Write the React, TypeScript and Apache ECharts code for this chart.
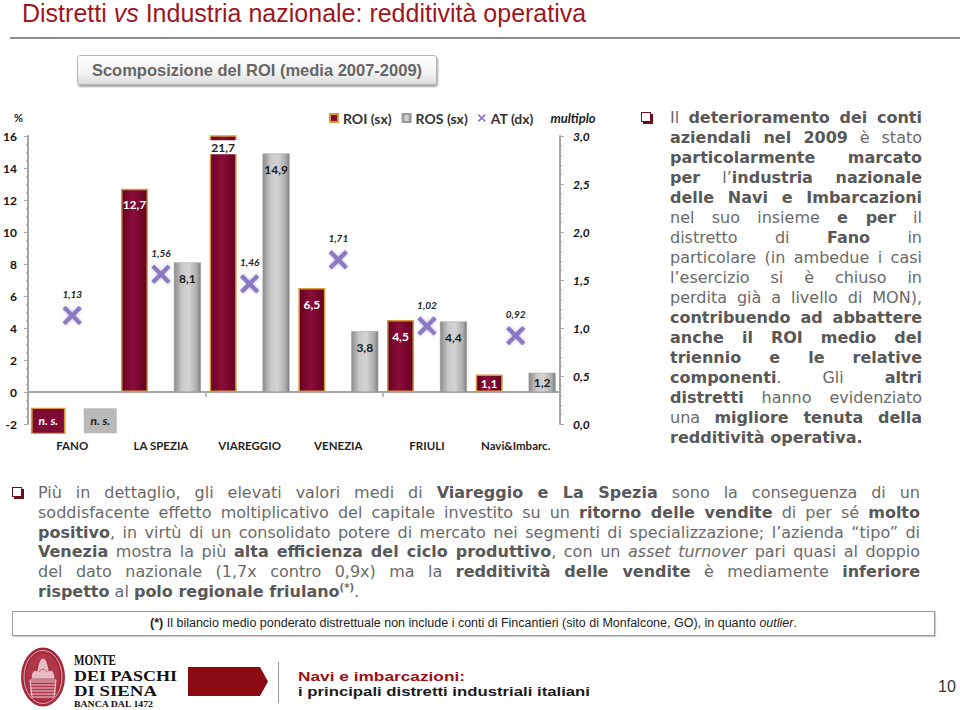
import React, { useEffect, useRef } from 'react';
import * as echarts from 'echarts';

// ---------- data ----------
const categories = ['FANO', 'LA SPEZIA', 'VIAREGGIO', 'VENEZIA', 'FRIULI', 'Navi&Imbarc.'];
const roiValues: (number | null)[] = [null, 12.7, 21.7, 6.5, 4.5, 1.1];
const rosValues: (number | null)[] = [null, 8.1, 14.9, 3.8, 4.4, 1.2];
const atValues: number[] = [1.13, 1.56, 1.46, 1.71, 1.02, 0.92];
const leftAxis = { min: -2, max: 16, interval: 2 };
const rightAxis = { min: 0, max: 3, interval: 0.5 };
const seriesNames = ['ROI (sx)', 'ROS (sx)', 'AT (dx)'];
const notSignificantLabel = 'n. s.';

// ---------- styles ----------
const FONT = 'Lato, "Open Sans", sans-serif';
const AXIS_GREY = '#a6a6a6';
const NS_LEVEL = -1.8;
const X_PATH =
  'path://M0,1.5L1.5,0L5,3.5L8.5,0L10,1.5L6.5,5L10,8.5L8.5,10L5,6.5L1.5,10L0,8.5L3.5,5Z';
const fmt1 = (v: number) => v.toFixed(1).replace('.', ',');
const fmt2 = (v: number) => v.toFixed(2).replace('.', ',');

const roiFill = {
  type: 'linear', x: 0, y: 0, x2: 1, y2: 0,
  colorStops: [
    { offset: 0, color: '#650321' },
    { offset: 0.45, color: '#8a0c3a' },
    { offset: 1, color: '#64021f' },
  ],
};
const rosFill = {
  type: 'linear', x: 0, y: 0, x2: 1, y2: 0,
  colorStops: [
    { offset: 0, color: '#8c8c8c' },
    { offset: 0.3, color: '#c9c9c9' },
    { offset: 0.55, color: '#d4d4d4' },
    { offset: 0.85, color: '#adadad' },
    { offset: 1, color: '#7e7e7e' },
  ],
};

const barData = (vals: (number | null)[]) =>
  vals.map((v) => {
    if (v === null) return '-';
    const item: any = { value: v };
    if (v > leftAxis.max) {
      item.label = { backgroundColor: '#fff', color: '#222', padding: [1, 4], distance: 5 };
    } else if (v < 2) {
      item.label = { position: 'inside' };
    }
    return item;
  });

const barLabel = (color: string) => ({
  show: true,
  position: 'insideTop',
  distance: 10,
  color,
  fontFamily: FONT,
  fontWeight: 'bold',
  fontSize: 12,
  formatter: (p: any) => fmt1(p.value),
});

const option: any = {
  animation: false,
  grid: { left: 26, right: 50, top: 41, bottom: 41, containLabel: false },
  legend: {
    left: 324,
    top: 11,
    itemWidth: 8,
    itemHeight: 8,
    itemGap: 10,
    textStyle: { fontFamily: FONT, fontWeight: 'bold', fontSize: 14, color: '#333' },
    data: [
      { name: seriesNames[0], icon: 'rect' },
      { name: seriesNames[1], icon: 'rect' },
      { name: seriesNames[2] },
    ],
  },
  xAxis: [
    {
      type: 'category',
      data: categories,
      position: 'bottom',
      axisLine: { show: false, onZero: false },
      axisTick: { show: false },
      splitLine: { show: false },
      axisLabel: {
        interval: 0,
        margin: 15,
        fontFamily: FONT,
        fontWeight: 'bold',
        fontSize: 11.5,
        color: '#1f1f1f',
      },
    },
    {
      type: 'category',
      data: categories,
      position: 'bottom',
      axisLine: { show: true, onZero: true, onZeroAxisIndex: 0, lineStyle: { color: AXIS_GREY, width: 2 } },
      axisTick: { show: true, length: 5, lineStyle: { color: AXIS_GREY, width: 1.5 } },
      axisLabel: { show: false },
      splitLine: { show: false },
    },
  ],
  yAxis: [
    {
      type: 'value',
      position: 'left',
      min: leftAxis.min,
      max: leftAxis.max,
      interval: leftAxis.interval,
      name: '%',
      nameLocation: 'end',
      nameGap: 13,
      nameTextStyle: { fontFamily: FONT, fontWeight: 'bold', fontSize: 11, color: '#222', align: 'right', padding: [0, 5, 0, 0] },
      axisLine: { show: true, lineStyle: { color: AXIS_GREY, width: 2 } },
      axisTick: { show: true, length: 4, lineStyle: { color: AXIS_GREY } },
      minorTick: { show: true, splitNumber: 4, length: 2, lineStyle: { color: AXIS_GREY } },
      splitLine: { show: false },
      axisLabel: { margin: 11, fontFamily: FONT, fontWeight: 'bold', fontSize: 12, color: '#111' },
    },
    {
      type: 'value',
      position: 'right',
      min: rightAxis.min,
      max: rightAxis.max,
      interval: rightAxis.interval,
      name: 'multiplo',
      nameLocation: 'end',
      nameGap: 12,
      nameTextStyle: { fontFamily: FONT, fontStyle: 'italic', fontWeight: 'bold', fontSize: 13, color: '#222', align: 'center', padding: [0, 0, 0, 26] },
      axisLine: { show: true, lineStyle: { color: AXIS_GREY, width: 2 } },
      axisTick: { show: true, length: 4, lineStyle: { color: AXIS_GREY } },
      minorTick: { show: true, splitNumber: 5, length: 2, lineStyle: { color: AXIS_GREY } },
      splitLine: { show: false },
      axisLabel: {
        margin: 13,
        fontFamily: FONT,
        fontStyle: 'italic',
        fontWeight: 'bold',
        fontSize: 12,
        color: '#111',
        formatter: (v: number) => fmt1(v),
      },
    },
  ],
  series: [
    {
      name: seriesNames[0],
      type: 'bar',
      xAxisIndex: 0,
      yAxisIndex: 0,
      barWidth: 27,
      barGap: '96%',
      clip: true,
      itemStyle: { color: roiFill, borderColor: '#d99a3a', borderWidth: 1.5 },
      label: barLabel('#fff'),
      data: barData(roiValues),
    },
    {
      name: seriesNames[1],
      type: 'bar',
      xAxisIndex: 0,
      yAxisIndex: 0,
      barWidth: 27,
      barGap: '96%',
      clip: true,
      itemStyle: { color: rosFill, borderColor: '#9a9a9a', borderWidth: 0.5 },
      label: barLabel('#1a1a1a'),
      data: barData(rosValues),
    },
    {
      name: seriesNames[2],
      type: 'scatter',
      xAxisIndex: 0,
      yAxisIndex: 1,
      symbol: X_PATH,
      symbolSize: 19,
      z: 5,
      itemStyle: { color: '#8b78c2', opacity: 1, shadowBlur: 3, shadowColor: 'rgba(110,90,170,0.6)' },
      label: {
        show: true,
        position: 'top',
        distance: 7,
        fontFamily: FONT,
        fontStyle: 'italic',
        fontWeight: 'bold',
        fontSize: 10,
        color: '#222',
        formatter: (p: any) => fmt2(p.value),
      },
      data: atValues,
    },
    {
      name: 'ROI n.s.',
      type: 'scatter',
      xAxisIndex: 0,
      yAxisIndex: 0,
      symbol: 'rect',
      symbolSize: [33, 25],
      symbolOffset: [-24, 0],
      silent: true,
      itemStyle: { color: '#7d0a34', opacity: 1, borderColor: '#d99a3a', borderWidth: 1.5 },
      label: { show: true, position: 'inside', formatter: notSignificantLabel, color: '#fff', fontFamily: FONT, fontStyle: 'italic', fontWeight: 'bold', fontSize: 12 },
      data: roiValues.map((v) => (v === null ? NS_LEVEL : '-')),
    },
    {
      name: 'ROS n.s.',
      type: 'scatter',
      xAxisIndex: 0,
      yAxisIndex: 0,
      symbol: 'rect',
      symbolSize: [33, 25],
      symbolOffset: [28, 0],
      silent: true,
      itemStyle: { color: '#b9b9b9', opacity: 1 },
      label: { show: true, position: 'inside', formatter: notSignificantLabel, color: '#1a1a1a', fontFamily: FONT, fontStyle: 'italic', fontWeight: 'bold', fontSize: 12 },
      data: rosValues.map((v) => (v === null ? NS_LEVEL : '-')),
    },
  ],
};

// ---------- text blocks ----------
type Seg = [string, 'n' | 'b' | 'i' | 'sup'];
const rightLines: Seg[][] = [
  [['Il ', 'n'], ['deterioramento dei conti', 'b']],
  [['aziendali nel 2009', 'b'], [' è stato', 'n']],
  [['particolarmente marcato', 'b']],
  [['per', 'b'], [' l’', 'n'], ['industria nazionale', 'b']],
  [['delle Navi e Imbarcazioni', 'b']],
  [['nel suo insieme ', 'n'], ['e per', 'b'], [' il', 'n']],
  [['distretto di ', 'n'], ['Fano', 'b'], [' in', 'n']],
  [['particolare (in ambedue i casi', 'n']],
  [['l’esercizio si è chiuso in', 'n']],
  [['perdita già a livello di MON),', 'n']],
  [['contribuendo ad abbattere', 'b']],
  [['anche il ROI medio del', 'b']],
  [['triennio e le relative', 'b']],
  [['componenti', 'b'], ['. Gli ', 'n'], ['altri', 'b']],
  [['distretti', 'b'], [' hanno evidenziato', 'n']],
  [['una ', 'n'], ['migliore tenuta della', 'b']],
  [['redditività operativa.', 'b']],
];
const bottomLines: Seg[][] = [
  [['Più in dettaglio, gli elevati valori medi di ', 'n'], ['Viareggio e La Spezia', 'b'], [' sono la conseguenza di un', 'n']],
  [['soddisfacente effetto moltiplicativo del capitale investito su un ', 'n'], ['ritorno delle vendite', 'b'], [' di per sé ', 'n'], ['molto', 'b']],
  [['positivo', 'b'], [', in virtù di un consolidato potere di mercato nei segmenti di specializzazione; l’azienda “tipo” di', 'n']],
  [['Venezia', 'b'], [' mostra la più ', 'n'], ['alta efficienza del ciclo produttivo', 'b'], [', con un ', 'n'], ['asset turnover', 'i'], [' pari quasi al doppio', 'n']],
  [['del dato nazionale (1,7x contro 0,9x) ma la ', 'n'], ['redditività delle vendite', 'b'], [' è mediamente ', 'n'], ['inferiore', 'b']],
  [['rispetto', 'b'], [' al ', 'n'], ['polo regionale friulano', 'b'], ['(*)', 'sup'], ['.', 'n']],
];

const segStyle = (k: Seg[1]): React.CSSProperties => {
  if (k === 'b') return { fontWeight: 'bold', color: '#585858' };
  if (k === 'i') return { fontStyle: 'italic' };
  if (k === 'sup') return { fontSize: '10px', verticalAlign: 'super', fontWeight: 'bold', lineHeight: 0 };
  return {};
};

function Paragraph({ lines, left, top, width, lineHeight }: { lines: Seg[][]; left: number; top: number; width: number; lineHeight: number }) {
  return (
    <div style={{ position: 'absolute', left, top, width, fontFamily: '"DejaVu Sans", Verdana, sans-serif', fontSize: 16, color: '#6a6a6a' }}>
      {lines.map((segs, i) => (
        <div
          key={i}
          style={{
            height: lineHeight,
            lineHeight: `${lineHeight}px`,
            whiteSpace: 'nowrap',
            textAlign: 'justify',
            textAlignLast: i === lines.length - 1 ? 'left' : 'justify',
          }}
        >
          {segs.map(([t, k], j) => (
            <span key={j} style={segStyle(k)}>{t}</span>
          ))}
        </div>
      ))}
    </div>
  );
}

function Bullet({ left, top }: { left: number; top: number }) {
  return (
    <div
      style={{
        position: 'absolute',
        left,
        top,
        width: 8,
        height: 8,
        border: '1px solid #6b0d1c',
        boxShadow: '2px 2px 0 #6b0d1c',
        background: '#fff',
      }}
    />
  );
}

function Emblem() {
  const lines = [36, 39, 42, 45, 48];
  return (
    <svg width={48} height={62} style={{ position: 'absolute', left: 19, top: 646 }}>
      <ellipse cx={24} cy={31} rx={22} ry={29.5} fill="#a3283b" />
      <ellipse cx={24} cy={31} rx={19} ry={26.5} fill="none" stroke="#f0cdd3" strokeWidth={0.8} />
      <ellipse cx={24} cy={31} rx={16.5} ry={24} fill="#b0364a" />
      <path d="M12,33 Q13,22 18,25 Q20,12 24,12 Q28,12 30,25 Q35,22 36,33 Z" fill="#e9bcc4" stroke="#8a1b2c" strokeWidth={0.6} />
      <path d="M20,26 Q24,20 28,26" fill="none" stroke="#8a1b2c" strokeWidth={0.6} />
      {lines.map((y) => (
        <line key={y} x1={11} y1={y} x2={37} y2={y} stroke="#f6dfe3" strokeWidth={0.9} />
      ))}
      <path d="M11,34 L37,34 L35,51 L13,51 Z" fill="none" stroke="#f6dfe3" strokeWidth={0.9} />
    </svg>
  );
}

export default function App() {
  const ref = useRef<HTMLDivElement>(null);
  useEffect(() => {
    document.body.style.margin = '0';
    const chart = echarts.init(ref.current!, undefined, { renderer: 'svg' });
    chart.setOption(option);
    return () => chart.dispose();
  }, []);

  return (
    <div style={{ position: 'relative', width: 960, height: 710, overflow: 'hidden', background: '#fff', fontFamily: '"Liberation Sans", Arial, sans-serif' }}>
      {/* title */}
      <div style={{ position: 'absolute', left: 22, top: -1, fontSize: 25, color: '#a0161c', whiteSpace: 'nowrap' }}>
        Distretti <i>vs</i> Industria nazionale: redditività operativa
      </div>
      <div style={{ position: 'absolute', left: 10, top: 37, width: 950, height: 2, background: '#8e8e8e' }} />

      {/* subtitle button */}
      <div
        style={{
          position: 'absolute',
          left: 77,
          top: 55,
          width: 358,
          height: 28,
          border: '1px solid #b5b5b5',
          borderRadius: 3,
          background: 'linear-gradient(#ffffff, #f3f3f3 60%, #dcdcdc)',
          boxShadow: '1px 2px 2px rgba(0,0,0,0.35)',
          textAlign: 'center',
          lineHeight: '29px',
          fontSize: 16.5,
          fontWeight: 'bold',
          color: '#666',
          whiteSpace: 'nowrap',
        }}
      >
        Scomposizione del ROI (media 2007-2009)
      </div>

      {/* chart */}
      <div ref={ref} style={{ position: 'absolute', left: 0, top: 95, width: 610, height: 370 }} />

      {/* right text */}
      <Bullet left={641} top={112} />
      <Paragraph lines={rightLines} left={670} top={108} width={252} lineHeight={20} />

      {/* bottom text */}
      <Bullet left={12} top={487} />
      <Paragraph lines={bottomLines} left={38} top={483} width={882} lineHeight={19.8} />

      {/* footnote */}
      <div
        style={{
          position: 'absolute',
          left: 12,
          top: 611,
          width: 921,
          height: 23,
          border: '1px solid #9c9c9c',
          boxShadow: '1px 1px 1px rgba(0,0,0,0.2)',
          textAlign: 'center',
          lineHeight: '23px',
          fontSize: 12.5,
          color: '#222',
          whiteSpace: 'nowrap',
        }}
      >
        <b>(*)</b> Il bilancio medio ponderato distrettuale non include i conti di Fincantieri (sito di Monfalcone, GO), in quanto <i>outlier</i>.
      </div>

      {/* footer */}
      <Emblem />
      <svg width={110} height={66} style={{ position: 'absolute', left: 70, top: 644 }}>
        <g fontFamily='"Liberation Serif", "DejaVu Serif", serif' fontWeight="bold" fill="#111">
          <text x={4} y={21} fontSize={15} textLength={42} lengthAdjust="spacingAndGlyphs">MONTE</text>
          <text x={4} y={36.5} fontSize={15} textLength={103} lengthAdjust="spacingAndGlyphs">DEI PASCHI</text>
          <text x={4} y={51.5} fontSize={15} textLength={83} lengthAdjust="spacingAndGlyphs">DI SIENA</text>
          <text x={4} y={63} fontSize={8.5} textLength={79} lengthAdjust="spacingAndGlyphs">BANCA DAL 1472</text>
        </g>
      </svg>
      <div
        style={{
          position: 'absolute',
          left: 188,
          top: 667,
          width: 80,
          height: 29,
          background: '#8a0a12',
          clipPath: 'polygon(0 0, 90% 0, 100% 50%, 90% 100%, 0 100%)',
        }}
      />
      <div style={{ position: 'absolute', left: 278, top: 662, width: 1, height: 41, background: '#9a9a9a' }} />
      <svg width={330} height={50} style={{ position: 'absolute', left: 290, top: 660 }}>
        <g fontFamily='"Liberation Sans", Arial, sans-serif' fontWeight="bold" fontSize={13.5}>
          <text x={8} y={21} fill="#9b0f1a" textLength={167} lengthAdjust="spacingAndGlyphs">Navi e imbarcazioni:</text>
          <text x={8} y={36} fill="#1a1a1a" textLength={292} lengthAdjust="spacingAndGlyphs">i principali distretti industriali italiani</text>
        </g>
      </svg>
      <div style={{ position: 'absolute', left: 938, top: 678, fontSize: 16, color: '#333' }}>10</div>
    </div>
  );
}
